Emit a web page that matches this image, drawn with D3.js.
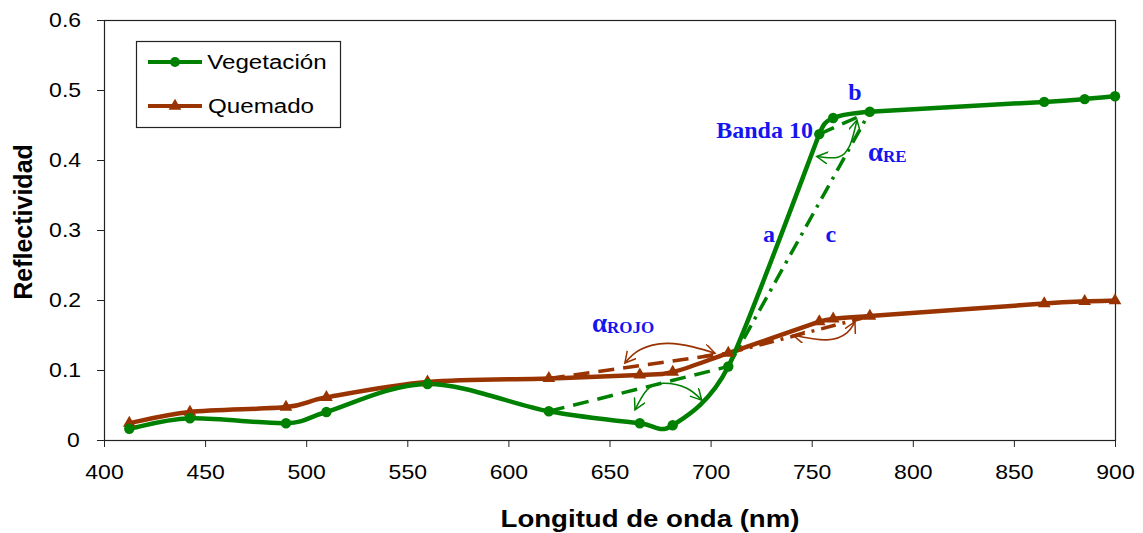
<!DOCTYPE html>
<html>
<head>
<meta charset="utf-8">
<script src="https://cdn.jsdelivr.net/npm/d3@7"></script>
<style>
body { margin: 0; background: #fff; }
svg text { font-family: "Liberation Sans", Arial, sans-serif; fill: #000; }
.wide { transform-box: fill-box; transform-origin: center; transform: scaleX(1.15); }
.note { font-family: "Liberation Serif", "DejaVu Serif", serif; font-weight: bold; fill: #1515f0; }
</style>
</head>
<body>
<svg id="chart" width="1143" height="533"></svg>
<script>
// MERIS band centres (nm)
const wavelengths = [412.5, 442.5, 490, 510, 560, 620, 665, 681.25, 708.75, 753.75, 760.625, 778.75, 865, 885, 900]
const vegetacion = [0.016, 0.031, 0.024, 0.040, 0.080, 0.041, 0.024, 0.021, 0.105, 0.437, 0.460, 0.469, 0.483, 0.487, 0.491]
const quemado = [0.024, 0.040, 0.047, 0.061, 0.083, 0.088, 0.093, 0.097, 0.124, 0.169, 0.173, 0.177, 0.195, 0.198, 0.199]
const xTicks = [400, 450, 500, 550, 600, 650, 700, 750, 800, 850, 900]
const yTicks = [0, 0.1, 0.2, 0.3, 0.4, 0.5, 0.6]
const seriesNames = ['Vegetación', 'Quemado']

// reference lines between bands: series, from nm, to nm, kind
const refSeries = ['veg', 'que', 'veg', 'que', 'veg']
const refFrom = [620, 620, 708.75, 708.75, 753.75]
const refTo = [708.75, 708.75, 778.75, 778.75, 778.75]
const refKind = ['dash', 'dash', 'dashdot', 'dashdot', 'dash']

// angle arcs (nm, reflectance)
const arcSeries = ['que', 'veg', 'que', 'veg']
const arcPoints = [
    [[657.6, 0.110], [665.1, 0.129], [678.3, 0.138], [691.3, 0.133], [702.2, 0.124]],
    [[662.6, 0.043], [668.4, 0.071], [676.6, 0.081], [688.2, 0.074], [695.6, 0.057]],
    [[740.7, 0.150], [757.5, 0.143], [767.4, 0.153], [771.4, 0.169]],
    [[752.5, 0.405], [763.0, 0.404], [768.9, 0.421], [772.4, 0.457]]
]

// annotation texts
const noteText = ['Banda 10', 'b', 'a', 'c', '\u03b1', '\u03b1']
const noteSub = ['', '', '', '', 'RE', 'ROJO']
const noteX = [750.6, 771.4, 728.9, 759.5, 777.8, 641.3]
const noteY = [0.431, 0.486, 0.283, 0.283, 0.399, 0.154]
const noteAnchor = ['end', 'middle', 'middle', 'middle', 'start', 'start']

const colours = { veg: '#008000', que: '#993300' }
let margin = { left: 104, right: 28, top: 20, bottom: 93 }
let width = 1143 - margin.left - margin.right
let height = 533 - margin.top - margin.bottom

// spreadsheet-style smoothing: cardinal bezier with control arms clipped on short segments
function smoothCurve(context) {
    let pts = []
    return {
        areaStart() {},
        areaEnd() {},
        lineStart() { pts = [] },
        point(x, y) { pts.push([+x, +y]) },
        lineEnd() {
            let n = pts.length
            if (!n) return
            let dist = (a, b) => Math.hypot(b[0] - a[0], b[1] - a[1])
            let tan = pts.map((p, i) => {
                let a = pts[Math.max(i - 1, 0)]
                let b = pts[Math.min(i + 1, n - 1)]
                let t = [(b[0] - a[0]) / 6, (b[1] - a[1]) / 6]
                let len = Math.hypot(t[0], t[1])
                let segs = []
                if (i > 0) segs.push(dist(pts[i - 1], p))
                if (i < n - 1) segs.push(dist(p, pts[i + 1]))
                let lim = 0.5 * Math.min(...segs)
                if (len > lim && len > 0) t = [t[0] * lim / len, t[1] * lim / len]
                return t
            })
            context.moveTo(pts[0][0], pts[0][1])
            for (let i = 0; i < n - 1; i++) {
                let p = pts[i], q = pts[i + 1]
                context.bezierCurveTo(p[0] + tan[i][0], p[1] + tan[i][1],
                    q[0] - tan[i + 1][0], q[1] - tan[i + 1][1], q[0], q[1])
            }
        }
    }
}

let svg = d3.select('#chart')

let xScale = d3.scaleLinear().domain([400, 900]).range([margin.left, margin.left + width])
let yScale = d3.scaleLinear().domain([0, 0.6]).range([margin.top + height, margin.top])

let veg = wavelengths.map((w, i) => ({ x: w, y: vegetacion[i] }))
let que = wavelengths.map((w, i) => ({ x: w, y: quemado[i] }))
let bySeries = { veg: veg, que: que }

let defs = svg.append('defs')
Object.keys(colours).forEach((k) => {
    defs.append('marker')
        .attr('id', 'arrow-' + k)
        .attr('markerUnits', 'userSpaceOnUse')
        .attr('markerWidth', 14)
        .attr('markerHeight', 14)
        .attr('refX', 11)
        .attr('refY', 6)
        .attr('orient', 'auto-start-reverse')
        .append('path')
        .attr('d', 'M0,0 L11,6 L0,12')
        .attr('fill', 'none')
        .attr('stroke', colours[k])
        .attr('stroke-width', 1.5)
})

// axes
let xAxis = d3.axisBottom(xScale).tickValues(xTicks).tickSize(7).tickPadding(18).tickFormat(d3.format('d'))
let yAxis = d3.axisLeft(yScale).tickValues(yTicks).tickSize(7).tickPadding(18)
    .tickFormat((d) => d === 0 ? '0' : d.toFixed(1))

let gx = svg.append('g')
    .attr('transform', `translate(0,${margin.top + height})`)
    .call(xAxis)
let gy = svg.append('g')
    .attr('transform', `translate(${margin.left},0)`)
    .call(yAxis)
;[gx, gy].forEach((g) => {
    g.select('.domain').remove()
    g.selectAll('line').attr('stroke', '#222')
    g.selectAll('text').attr('font-size', 20).attr('fill', '#000').attr('class', 'wide')
})

svg.append('rect')
    .attr('x', margin.left + 0.5)
    .attr('y', margin.top + 0.5)
    .attr('width', width)
    .attr('height', height)
    .attr('fill', 'none')
    .attr('stroke', '#222')
    .attr('stroke-width', 1.2)

// reference lines
let dashes = { dash: '16,9', dashdot: '15,7,3,7' }
refFrom.forEach((f, i) => {
    let s = bySeries[refSeries[i]]
    let a = s[wavelengths.indexOf(f)]
    let b = s[wavelengths.indexOf(refTo[i])]
    svg.append('line')
        .attr('x1', xScale(a.x))
        .attr('y1', yScale(a.y))
        .attr('x2', xScale(b.x))
        .attr('y2', yScale(b.y))
        .attr('stroke', colours[refSeries[i]])
        .attr('stroke-width', 3.5)
        .attr('stroke-dasharray', dashes[refKind[i]])
})

// curves
let line = d3.line()
    .x((d) => xScale(d.x))
    .y((d) => yScale(d.y))
    .curve(smoothCurve)

svg.append('path').datum(que)
    .attr('d', line)
    .attr('fill', 'none')
    .attr('stroke', colours.que)
    .attr('stroke-width', 4.5)
svg.append('path').datum(veg)
    .attr('d', line)
    .attr('fill', 'none')
    .attr('stroke', colours.veg)
    .attr('stroke-width', 4.5)

let tri = d3.symbol(d3.symbolTriangle).size(70)
svg.selectAll('.tri')
    .data(que)
    .enter()
    .append('path')
    .attr('class', 'tri')
    .attr('d', tri)
    .attr('transform', (d) => `translate(${xScale(d.x)},${yScale(d.y)})`)
    .attr('fill', colours.que)
svg.selectAll('.dot')
    .data(veg)
    .enter()
    .append('circle')
    .attr('class', 'dot')
    .attr('cx', (d) => xScale(d.x))
    .attr('cy', (d) => yScale(d.y))
    .attr('r', 5.2)
    .attr('fill', colours.veg)

// angle arcs
let arcLine = d3.line()
    .x((d) => xScale(d[0]))
    .y((d) => yScale(d[1]))
    .curve(d3.curveNatural)
arcPoints.forEach((pts, i) => {
    svg.append('path')
        .attr('d', arcLine(pts))
        .attr('fill', 'none')
        .attr('stroke', colours[arcSeries[i]])
        .attr('stroke-width', 1.6)
        .attr('marker-start', `url(#arrow-${arcSeries[i]})`)
        .attr('marker-end', `url(#arrow-${arcSeries[i]})`)
})

// annotation texts
noteText.forEach((t, i) => {
    let txt = svg.append('text')
        .attr('class', 'note')
        .attr('x', xScale(noteX[i]))
        .attr('y', yScale(noteY[i]))
        .attr('text-anchor', noteAnchor[i])
        .attr('font-size', noteSub[i] ? 27 : 24)
        .text(t)
    if (noteSub[i]) {
        txt.append('tspan').attr('font-size', 17).attr('dy', 1).text(noteSub[i])
    }
})

// legend
let legend = svg.append('g')
legend.append('rect')
    .attr('x', 136.5).attr('y', 41.5)
    .attr('width', 204).attr('height', 86)
    .attr('fill', '#fff')
    .attr('stroke', '#222')
    .attr('stroke-width', 1.2)
seriesNames.forEach((name, i) => {
    let key = i === 0 ? 'veg' : 'que'
    let ly = 62 + i * 44
    legend.append('line')
        .attr('x1', 148).attr('x2', 202)
        .attr('y1', ly).attr('y2', ly)
        .attr('stroke', colours[key])
        .attr('stroke-width', 4)
    if (key === 'veg') {
        legend.append('circle').attr('cx', 175).attr('cy', ly).attr('r', 5).attr('fill', colours.veg)
    } else {
        legend.append('path').attr('d', tri).attr('transform', `translate(175,${ly})`).attr('fill', colours.que)
    }
    legend.append('text')
        .attr('class', 'wide')
        .attr('x', 215)
        .attr('y', ly + 7.5)
        .attr('font-size', 21)
        .text(name)
})

// axis titles
svg.append('text')
    .attr('class', 'wide')
    .attr('x', 650)
    .attr('y', 527)
    .attr('text-anchor', 'middle')
    .attr('font-size', 24)
    .attr('font-weight', 'bold')
    .text('Longitud de onda (nm)')
svg.append('text')
    .attr('transform', 'translate(32,222) rotate(-90)')
    .attr('text-anchor', 'middle')
    .attr('font-size', 25)
    .attr('font-weight', 'bold')
    .text('Reflectividad')
</script>
</body>
</html>
